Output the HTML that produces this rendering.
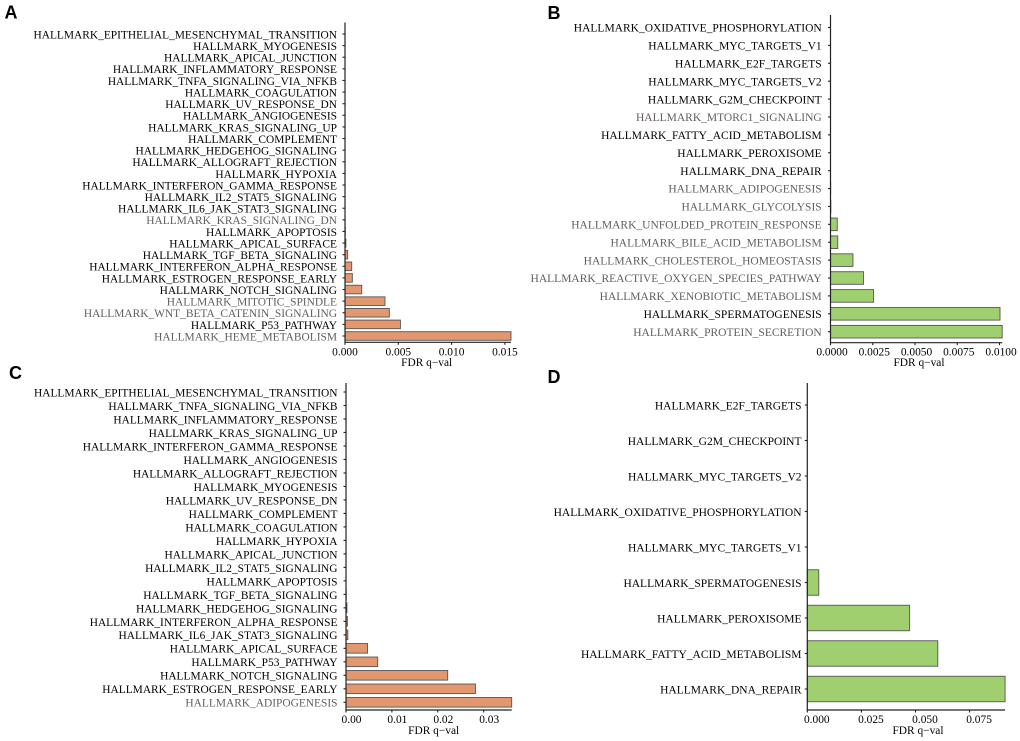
<!DOCTYPE html>
<html lang="en">
<head>
<meta charset="utf-8">
<title>Hallmark FDR q-val bar charts</title>
<style>
html,body{margin:0;padding:0;background:#fff;}
body{width:1020px;height:741px;overflow:hidden;}
svg{display:block;filter:blur(0.3px);}
text{font-family:"Liberation Serif",serif;}
.panel-letter{font-family:"Liberation Sans",sans-serif;font-weight:bold;font-size:18px;fill:#000;}
</style>
</head>
<body>
<svg id="figure" width="1020" height="741" viewBox="0 0 1020 741" xmlns="http://www.w3.org/2000/svg">
<text class="panel-letter" x="4.5" y="18.5">A</text>
<text class="panel-letter" x="547.5" y="19">B</text>
<text class="panel-letter" x="9" y="379">C</text>
<text class="panel-letter" x="547.5" y="383">D</text>
</svg>
<script>
var categoriesA = ["EPITHELIAL_MESENCHYMAL_TRANSITION","MYOGENESIS","APICAL_JUNCTION","INFLAMMATORY_RESPONSE","TNFA_SIGNALING_VIA_NFKB","COAGULATION","UV_RESPONSE_DN","ANGIOGENESIS","KRAS_SIGNALING_UP","COMPLEMENT","HEDGEHOG_SIGNALING","ALLOGRAFT_REJECTION","HYPOXIA","INTERFERON_GAMMA_RESPONSE","IL2_STAT5_SIGNALING","IL6_JAK_STAT3_SIGNALING","KRAS_SIGNALING_DN","APOPTOSIS","APICAL_SURFACE","TGF_BETA_SIGNALING","INTERFERON_ALPHA_RESPONSE","ESTROGEN_RESPONSE_EARLY","NOTCH_SIGNALING","MITOTIC_SPINDLE","WNT_BETA_CATENIN_SIGNALING","P53_PATHWAY","HEME_METABOLISM"];
var valuesA = [0,0,0,0,0,0,0,0,0,0,0,0,0,0,0,0,0.00001,0.00003,0.00008,0.00025,0.00063,0.00069,0.00157,0.00375,0.00416,0.0052,0.01557];
var mutedA = ["KRAS_SIGNALING_DN","MITOTIC_SPINDLE","WNT_BETA_CATENIN_SIGNALING","HEME_METABOLISM"];
var ticksA = [0,0.005,0.01,0.015];
var tickLabelsA = ["0.000","0.005","0.010","0.015"];

var categoriesB = ["OXIDATIVE_PHOSPHORYLATION","MYC_TARGETS_V1","E2F_TARGETS","MYC_TARGETS_V2","G2M_CHECKPOINT","MTORC1_SIGNALING","FATTY_ACID_METABOLISM","PEROXISOME","DNA_REPAIR","ADIPOGENESIS","GLYCOLYSIS","UNFOLDED_PROTEIN_RESPONSE","BILE_ACID_METABOLISM","CHOLESTEROL_HOMEOSTASIS","REACTIVE_OXYGEN_SPECIES_PATHWAY","XENOBIOTIC_METABOLISM","SPERMATOGENESIS","PROTEIN_SECRETION"];
var valuesB = [0,0,0,0,0,0,0,0,0,0.00001,0.00002,0.0004,0.00043,0.00133,0.00195,0.00255,0.01003,0.01016];
var mutedB = ["MTORC1_SIGNALING","ADIPOGENESIS","GLYCOLYSIS","UNFOLDED_PROTEIN_RESPONSE","BILE_ACID_METABOLISM","CHOLESTEROL_HOMEOSTASIS","REACTIVE_OXYGEN_SPECIES_PATHWAY","XENOBIOTIC_METABOLISM","PROTEIN_SECRETION"];
var ticksB = [0,0.0025,0.005,0.0075,0.01];
var tickLabelsB = ["0.0000","0.0025","0.0050","0.0075","0.0100"];

var categoriesC = ["EPITHELIAL_MESENCHYMAL_TRANSITION","TNFA_SIGNALING_VIA_NFKB","INFLAMMATORY_RESPONSE","KRAS_SIGNALING_UP","INTERFERON_GAMMA_RESPONSE","ANGIOGENESIS","ALLOGRAFT_REJECTION","MYOGENESIS","UV_RESPONSE_DN","COMPLEMENT","COAGULATION","HYPOXIA","APICAL_JUNCTION","IL2_STAT5_SIGNALING","APOPTOSIS","TGF_BETA_SIGNALING","HEDGEHOG_SIGNALING","INTERFERON_ALPHA_RESPONSE","IL6_JAK_STAT3_SIGNALING","APICAL_SURFACE","P53_PATHWAY","NOTCH_SIGNALING","ESTROGEN_RESPONSE_EARLY","ADIPOGENESIS"];
var valuesC = [0,0,0,0,0,0,0,0,0,0,0,0,0,0,0,0.00005,0.0002,0.0003,0.0004,0.0047,0.0069,0.02216,0.0282,0.0361];
var mutedC = ["ADIPOGENESIS"];
var ticksC = [0,0.01,0.02,0.03];
var tickLabelsC = ["0.00","0.01","0.02","0.03"];

var categoriesD = ["E2F_TARGETS","G2M_CHECKPOINT","MYC_TARGETS_V2","OXIDATIVE_PHOSPHORYLATION","MYC_TARGETS_V1","SPERMATOGENESIS","PEROXISOME","FATTY_ACID_METABOLISM","DNA_REPAIR"];
var valuesD = [0,0,0,0,0,0.0053,0.0473,0.0603,0.0914];
var mutedD = [];
var ticksD = [0,0.025,0.05,0.075];
var tickLabelsD = ["0.000","0.025","0.050","0.075"];

var NS = "http://www.w3.org/2000/svg";
var svg = document.getElementById("figure");

function make(parent, tag, attrs, content) {
  var node = document.createElementNS(NS, tag);
  for (var key in attrs) { node.setAttribute(key, attrs[key]); }
  if (content !== undefined) { node.textContent = content; }
  parent.appendChild(node);
  return node;
}

function drawPanel(id, categories, values, muted, ticks, tickLabels, cfg) {
  var xScale = function (v) { return cfg.x0 + v * cfg.pxPerUnit; };
  var yScale = function (i) { return cfg.firstY + i * (cfg.lastY - cfg.firstY) / (categories.length - 1); };
  var g = make(svg, "g", {});
  
  

  categories.forEach(function (cat, i) {
    var y = yScale(i);
    var w = xScale(values[i]) - cfg.x0;
    var isMuted = muted.indexOf(cat) >= 0;

    var bar = make(g, "rect", {x: cfg.x0, y: y - cfg.barH / 2, width: Math.max(w, 0), height: cfg.barH, fill: cfg.fill, stroke: "#555", "stroke-width": 0.9});
    
    

    var tick = make(g, "line", {x1: cfg.x0 - 2.5, x2: cfg.x0, y1: y, y2: y, stroke: "#222", "stroke-width": 1.1});
    
    

    var label = make(g, "text", {x: cfg.labelX, y: y + cfg.labelDy, "text-anchor": "end", "font-size": cfg.fontSize, fill: isMuted ? "#635d5d" : "#000"}, "HALLMARK_" + cat);
    
    
  });

  var maxV = Math.max.apply(null, values);
  var yAxis = make(g, "line", {x1: cfg.x0, x2: cfg.x0, y1: cfg.top, y2: cfg.bottom, stroke: "#222", "stroke-width": 1.2});
  
  

  var xAxis = make(g, "line", {x1: cfg.x0 - 0.6, x2: xScale(maxV), y1: cfg.bottom, y2: cfg.bottom, stroke: "#222", "stroke-width": 1.2});
  
  

  ticks.forEach(function (t, i) {
    var x = xScale(t);
    var tick = make(g, "line", {x1: x, x2: x, y1: cfg.bottom, y2: cfg.bottom + 2.5, stroke: "#222", "stroke-width": 1.1});
    
    

    var label = make(g, "text", {x: x + cfg.tickLabelDx, y: cfg.tickLabelY, "text-anchor": "middle", "font-size": cfg.axisFont, fill: "#000"}, tickLabels[i]);
    
    
  });

  var title = make(g, "text", {x: cfg.titleX, y: cfg.titleY, "text-anchor": "middle", "font-size": cfg.axisFont, fill: "#000"}, "FDR q\u2212val");
  
  
}

drawPanel("a", categoriesA, valuesA, mutedA, ticksA, tickLabelsA, {
  x0: 345, pxPerUnit: 10660, firstY: 34, lastY: 336, barH: 8.6, top: 22.5, bottom: 342.3,
  fill: "#E2976F", labelX: 337, labelDy: 4.4, fontSize: 11.42, axisFont: 11.4,
  tickLabelDx: 0, tickLabelY: 355.5, titleX: 426.7, titleY: 366
});
drawPanel("b", categoriesB, valuesB, mutedB, ticksB, tickLabelsB, {
  x0: 830.5, pxPerUnit: 16900, firstY: 27.5, lastY: 331.7, barH: 12.6, top: 15, bottom: 342.7,
  fill: "#9FCF6E", labelX: 821.7, labelDy: 4.2, fontSize: 11.5, axisFont: 11.4,
  tickLabelDx: 1.5, tickLabelY: 355.5, titleX: 919, titleY: 366
});
drawPanel("c", categoriesC, valuesC, mutedC, ticksC, tickLabelsC, {
  x0: 346, pxPerUnit: 4590, firstY: 392, lastY: 702.3, barH: 9.6, top: 383, bottom: 710,
  fill: "#E2976F", labelX: 337.5, labelDy: 4.4, fontSize: 11.42, axisFont: 11.4,
  tickLabelDx: 5.5, tickLabelY: 723, titleX: 433.7, titleY: 734
});
drawPanel("d", categoriesD, valuesD, mutedD, ticksD, tickLabelsD, {
  x0: 807.3, pxPerUnit: 2164, firstY: 405, lastY: 689, barH: 25.5, top: 383, bottom: 710,
  fill: "#9FCF6E", labelX: 801.5, labelDy: 4.4, fontSize: 11.5, axisFont: 11.4,
  tickLabelDx: 9.5, tickLabelY: 723, titleX: 918, titleY: 734
});
</script>
</body>
</html>
